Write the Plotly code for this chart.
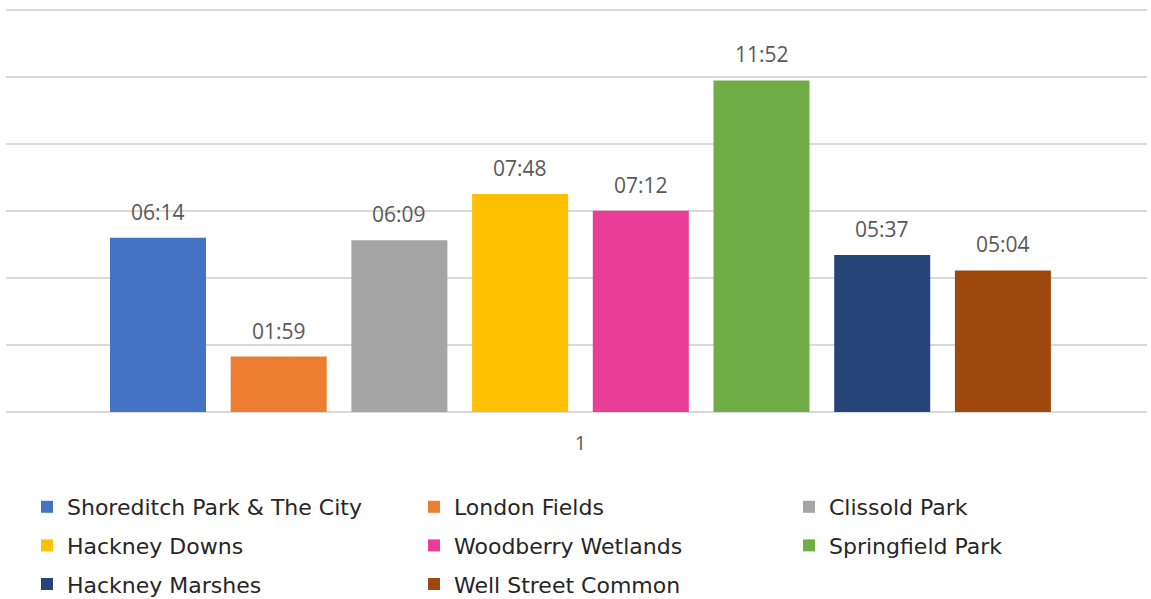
import plotly.graph_objects as go

# ---- data ----
category = ["1"]
parks = ["Shoreditch Park & The City", "London Fields", "Clissold Park",
         "Hackney Downs", "Woodberry Wetlands", "Springfield Park",
         "Hackney Marshes", "Well Street Common"]
times = ["06:14", "01:59", "06:09", "07:48", "07:12", "11:52", "05:37", "05:04"]
colors = ["#4472C4", "#ED7D31", "#A5A5A5", "#FFC000",
          "#E83E97", "#70AD47", "#264478", "#9E480E"]

def to_sec(t):
    m, s = t.split(":")
    return int(m) * 60 + int(s)

seconds = [to_sec(t) for t in times]

# ---- layout geometry ----
W, H = 1151, 599
L, R, T, B = 6, 4, 5, 187
PW = W - L - R
PH = H - T - B
center_px = L + PW / 2
bar_w_px = 96
step_px = 120.7
first_left_px = 110
px_per_sec = (412 - 9.7) / 864
y_top = PH / px_per_sec

fig = go.Figure()
annotations = []
for i, (name, sec, lab, col) in enumerate(zip(parks, seconds, times, colors)):
    left = (first_left_px + step_px * i - center_px) / PW
    w = bar_w_px / PW
    leg = ["legend", "legend2", "legend3"][i % 3]
    fig.add_trace(go.Bar(
        x=category, y=[sec], name=name, offset=left, width=w,
        marker=dict(color=col, line=dict(width=0)),
        legend=leg, legendgroup=name, hoverinfo="name+text", text=[lab],
        textposition="none",
    ))
    annotations.append(dict(
        x=left + w / 2, y=sec, xref="x", yref="y", text=lab,
        showarrow=False, yanchor="middle", yshift=26,
        font=dict(family="Open Sans", size=21, color="#595959"),
    ))

leg_font = dict(family="DejaVu Sans", size=22, color="#262626")
text_x_px = [67, 454, 829]
bottom_px = T + PH
ytop = (bottom_px - 486) / PH
leg_common = dict(orientation="v", xanchor="left", yanchor="top", y=ytop,
                  font=leg_font, tracegroupgap=7, itemwidth=30,
                  bgcolor="rgba(0,0,0,0)", borderwidth=0, itemclick=False)

def legx(px):
    return (px - 40 - L) / PW

fig.update_layout(
    width=W, height=H,
    margin=dict(l=L, r=R, t=T, b=B, pad=0, autoexpand=False),
    paper_bgcolor="white", plot_bgcolor="white",
    barmode="overlay",
    showlegend=True,
    legend=dict(leg_common, x=legx(text_x_px[0])),
    legend2=dict(leg_common, x=legx(text_x_px[1])),
    legend3=dict(leg_common, x=legx(text_x_px[2])),
    xaxis=dict(type="category", range=[-0.5, 0.5], showgrid=False,
               zeroline=False, showline=False, ticks="",
               tickfont=dict(family="Open Sans", size=20, color="#595959"),
               ticklabelstandoff=17, ticklabelshift=4),
    yaxis=dict(range=[0, y_top], tick0=0, dtick=144, showticklabels=False,
               showgrid=True, gridcolor="#D9D9D9", gridwidth=1.5,
               zeroline=True, zerolinecolor="#D9D9D9", zerolinewidth=1.5,
               showline=False, ticks=""),
    annotations=annotations,
)

fig.write_html("out.html")
